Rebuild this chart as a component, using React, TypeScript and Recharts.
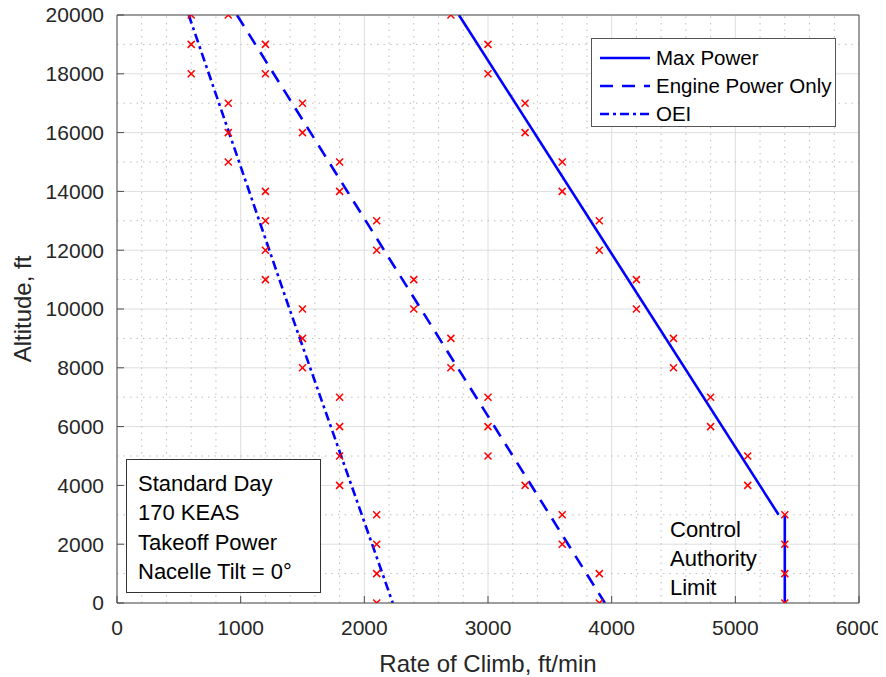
import React from "react";
import {
  ComposedChart,
  Line,
  Scatter,
  XAxis,
  YAxis,
  CartesianGrid,
  ReferenceLine,
} from "recharts";

// altitude stations of the test points, ft
const altitudes = [
  0, 1000, 2000, 3000, 4000, 5000, 6000, 7000, 8000, 9000, 10000, 11000, 12000,
  13000, 14000, 15000, 16000, 17000, 18000, 19000, 20000,
];

// measured rate of climb at each altitude, ft/min (red crosses)
const maxPowerRoc = [
  5400, 5400, 5400, 5400, 5100, 5100, 4800, 4800, 4500, 4500, 4200, 4200, 3900,
  3900, 3600, 3600, 3300, 3300, 3000, 3000, 2700,
];
const enginePowerRoc = [
  3900, 3900, 3600, 3600, 3300, 3000, 3000, 3000, 2700, 2700, 2400, 2400, 2100,
  2100, 1800, 1800, 1500, 1500, 1200, 1200, 900,
];
const oeiRoc = [
  2100, 2100, 2100, 2100, 1800, 1800, 1800, 1800, 1500, 1500, 1500, 1200, 1200,
  1200, 1200, 900, 900, 900, 600, 600, 600,
];

// predicted curves
const maxPowerLine = [
  { roc: 2765, alt: 20000 },
  { roc: 5350, alt: 3000 },
];
const controlLimitLine = [
  { roc: 5400, alt: 3000 },
  { roc: 5400, alt: 0 },
];
const enginePowerLine = [
  { roc: 970, alt: 20000 },
  { roc: 3945, alt: 0 },
];
const oeiLine = [
  { roc: 580, alt: 20000 },
  { roc: 1395, alt: 10000 },
  { roc: 2230, alt: 0 },
];

const xTicks = [0, 1000, 2000, 3000, 4000, 5000, 6000];
const yTicks = [0, 2000, 4000, 6000, 8000, 10000, 12000, 14000, 16000, 18000, 20000];
const xMinor = [
  200, 400, 600, 800, 1200, 1400, 1600, 1800, 2200, 2400, 2600, 2800, 3200, 3400,
  3600, 3800, 4200, 4400, 4600, 4800, 5200, 5400, 5600, 5800,
];
const yMinor = [1000, 3000, 5000, 7000, 9000, 11000, 13000, 15000, 17000, 19000];

const legendItems = [
  { name: "Max Power", dash: undefined },
  { name: "Engine Power Only", dash: "13 9" },
  { name: "OEI", dash: "9 4 3 4" },
];
const conditions = ["Standard Day", "170 KEAS", "Takeoff Power", "Nacelle Tilt = 0°"];
const limitNote = ["Control", "Authority", "Limit"];

const markers = altitudes.flatMap((alt, i) => [
  { roc: maxPowerRoc[i], alt },
  { roc: enginePowerRoc[i], alt },
  { roc: oeiRoc[i], alt },
]);

const BLUE = "#0000ff";
const AXIS = "#4d4d4d";
const TEXT = "#262626";

function Cross(props: any) {
  const { cx, cy } = props;
  const s = 3.5;
  return (
    <g stroke="#ff0000" strokeWidth={1.5}>
      <line x1={cx - s} y1={cy - s} x2={cx + s} y2={cy + s} />
      <line x1={cx - s} y1={cy + s} x2={cx + s} y2={cy - s} />
    </g>
  );
}

function XTitle(props: any) {
  const { x, y, width } = props.viewBox;
  return (
    <text x={x + width / 2} y={y + 60} textAnchor="middle" dominantBaseline="central" fontSize={24} fill={TEXT}>
      Rate of Climb, ft/min
    </text>
  );
}

function YTitle(props: any) {
  const { x, y, height } = props.viewBox;
  const cx = x + 14;
  const cy = y + height / 2;
  return (
    <text x={cx} y={cy} transform={`rotate(-90 ${cx} ${cy})`} textAnchor="middle" dominantBaseline="central" fontSize={24} fill={TEXT}>
      Altitude, ft
    </text>
  );
}

export default function App() {
  return (
    <div style={{ position: "relative", marginTop: -8, width: 878, height: 677, fontFamily: "'Liberation Sans', Arial, sans-serif", background: "#fff" }}>
      <ComposedChart width={878} height={677} margin={{ top: 14, right: 26, bottom: 0, left: 0 }}>
        <CartesianGrid stroke="#dedede" strokeWidth={1} />
        {xMinor.map((v) => (
          <ReferenceLine key={"vx" + v} x={v} stroke="#bdbdbd" strokeDasharray="1.5 5" />
        ))}
        {yMinor.map((v) => (
          <ReferenceLine key={"hy" + v} y={v} stroke="#bdbdbd" strokeDasharray="1.5 5" />
        ))}
        <XAxis
          type="number"
          dataKey="roc"
          domain={[0, 6000]}
          ticks={xTicks}
          interval={0}
          allowDataOverflow
          height={74}
          tickSize={-7}
          tickMargin={24}
          tick={{ fontSize: 21, fill: TEXT }}
          stroke={AXIS}
          label={<XTitle />}
        />
        <XAxis
          xAxisId="top"
          orientation="top"
          type="number"
          dataKey="roc"
          domain={[0, 6000]}
          ticks={xTicks}
          interval={0}
          height={1}
          tick={false}
          tickSize={-7}
          stroke={AXIS}
        />
        <YAxis
          type="number"
          dataKey="alt"
          domain={[0, 20000]}
          ticks={yTicks}
          interval={0}
          allowDataOverflow
          width={109}
          tickSize={-7}
          tickMargin={20}
          tick={{ fontSize: 21, fill: TEXT }}
          stroke={AXIS}
          label={<YTitle />}
        />
        <YAxis
          yAxisId="right"
          orientation="right"
          type="number"
          dataKey="alt"
          domain={[0, 20000]}
          ticks={yTicks}
          interval={0}
          width={1}
          tick={false}
          tickSize={-7}
          stroke={AXIS}
        />
        <Line data={maxPowerLine} dataKey="alt" name="Max Power" stroke={BLUE} strokeWidth={2.6} dot={false} isAnimationActive={false} />
        <Line data={controlLimitLine} dataKey="alt" name="Control Limit" stroke={BLUE} strokeWidth={2.6} dot={false} legendType="none" isAnimationActive={false} />
        <Line data={enginePowerLine} dataKey="alt" name="Engine Power Only" stroke={BLUE} strokeWidth={2.6} strokeDasharray="13 9" dot={false} isAnimationActive={false} />
        <Line data={oeiLine} dataKey="alt" name="OEI" stroke={BLUE} strokeWidth={2.6} strokeDasharray="9 4 3 4" dot={false} isAnimationActive={false} />
        <Scatter data={markers} dataKey="alt" shape={<Cross />} legendType="none" isAnimationActive={false} />
      </ComposedChart>

      {/* legend */}
      <div style={{ position: "absolute", left: 583, top: 38, width: 245, height: 89, border: "1.5px solid #555", background: "#fff", paddingTop: 5, boxSizing: "border-box" }}>
        {legendItems.map((it) => (
          <div key={it.name} style={{ display: "flex", alignItems: "center", height: 28, fontSize: 20.5, color: "#000" }}>
            <svg width={64} height={10} style={{ flex: "none" }}>
              <line x1={8} y1={5} x2={58} y2={5} stroke={BLUE} strokeWidth={2.6} strokeDasharray={it.dash} />
            </svg>
            <span>{it.name}</span>
          </div>
        ))}
      </div>

      {/* flight conditions */}
      <div style={{ position: "absolute", left: 118, top: 459, width: 195, height: 134, border: "1.5px solid #333", background: "#fff", padding: "9px 0 0 11px", boxSizing: "border-box", fontSize: 22, lineHeight: "29.3px", color: "#000" }}>
        {conditions.map((t) => (
          <div key={t}>{t}</div>
        ))}
      </div>

      <div style={{ position: "absolute", left: 662, top: 515, fontSize: 22, lineHeight: "29px", color: "#000" }}>
        {limitNote.map((t) => (
          <div key={t}>{t}</div>
        ))}
      </div>
    </div>
  );
}
